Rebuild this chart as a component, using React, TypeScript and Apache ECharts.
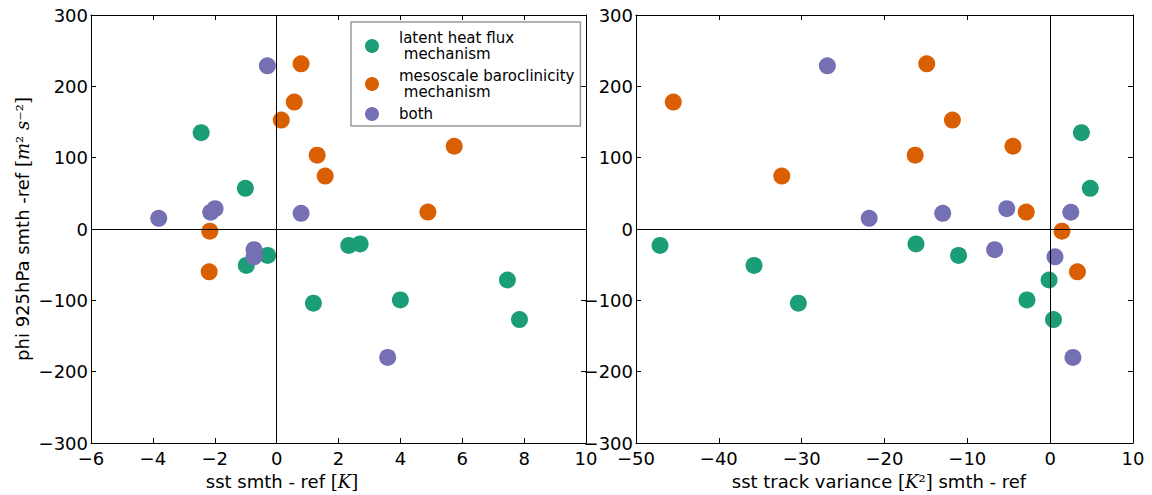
import React, { useEffect, useRef } from "react";
import * as echarts from "echarts";

// ---- data ----
const LATENT = "latent heat flux\n mechanism";
const MESO = "mesoscale baroclinicity\n mechanism";
const BOTH = "both";

// phi 925hPa smth - ref (shared y values)
const phiLatent = [135, 57, -23, -21, -51, -37, -71.5, -104, -99.5, -127];
const sstLatent = [-2.44, -1.01, 2.33, 2.7, -0.98, -0.29, 7.46, 1.19, 4.0, 7.85];
const varLatent = [3.77, 4.84, -47.1, -16.2, -35.75, -11.06, -0.13, -30.4, -2.8, 0.4];

const phiMeso = [231.6, 178, 152.7, 116, 103.5, 74.2, 23.7, -3, -60];
const sstMeso = [0.79, 0.57, 0.15, 5.74, 1.31, 1.57, 4.89, -2.16, -2.18];
const varMeso = [-14.9, -45.5, -11.8, -4.49, -16.3, -32.4, -2.89, 1.42, 3.29];

const phiBoth = [228.8, 15, 22, 23.5, 28.5, -29, -39, -180];
const sstBoth = [-0.3, -3.81, 0.79, -2.13, -1.99, -0.73, -0.73, 3.59];
const varBoth = [-26.9, -21.85, -12.97, 2.49, -5.24, -6.7, 0.58, 2.75];

const COLORS = { latent: "#1b9e77", meso: "#d95f02", both: "#7570b3" };

const FONT = "DejaVu Sans";
const fmt = (v: number) => (v < 0 ? "\u2212" + Math.abs(v) : String(v));

const rich = {
  b: { fontFamily: "DejaVu Serif", fontSize: 18, color: "#000" },
  i: { fontFamily: "DejaVu Serif", fontStyle: "italic", fontSize: 18, color: "#000" },
};

function xPair(grid: number, min: number, max: number, interval: number, name: string, padRight: number) {
  const common = {
    type: "value",
    gridIndex: grid,
    min,
    max,
    interval,
    splitLine: { show: false },
    axisLine: { show: true, onZero: false, lineStyle: { color: "#000", width: 1 } },
    axisTick: { show: true, inside: true, length: 5, lineStyle: { color: "#000" } },
  };
  return [
    {
      ...common,
      position: "bottom",
      name,
      nameLocation: "middle",
      nameGap: 29,
      nameTextStyle: { fontFamily: FONT, fontSize: 18, color: "#000", padding: [0, padRight, 0, 0], rich },
      axisLabel: { show: true, margin: 6, fontFamily: FONT, fontSize: 18, color: "#000", formatter: fmt },
    },
    { ...common, position: "top", axisLabel: { show: false } },
  ];
}

function yPair(grid: number, name?: string) {
  const common = {
    type: "value",
    gridIndex: grid,
    min: -300,
    max: 300,
    interval: 100,
    splitLine: { show: false },
    axisLine: { show: true, onZero: false, lineStyle: { color: "#000", width: 1 } },
    axisTick: { show: true, inside: true, length: 5, lineStyle: { color: "#000" } },
  };
  const left: any = {
    ...common,
    position: "left",
    axisLabel: { show: true, margin: 3, fontFamily: FONT, fontSize: 18, color: "#000", formatter: fmt },
  };
  if (name) {
    left.name = name;
    left.nameLocation = "middle";
    left.nameGap = 60;
    left.nameTextStyle = { fontFamily: FONT, fontSize: 18, color: "#000", rich };
  }
  return [left, { ...common, position: "right", axisLabel: { show: false } }];
}

function scatter(name: string, color: string, xs: number[], ys: number[], xi: number, yi: number) {
  return {
    type: "scatter",
    name,
    xAxisIndex: xi,
    yAxisIndex: yi,
    symbol: "circle",
    symbolSize: 17,
    itemStyle: { color, opacity: 1 },
    data: xs.map((x, i) => [x, ys[i]]),
    z: 2,
  };
}

function zeroLines(xi: number, yi: number) {
  return {
    type: "scatter",
    name: "zero" + xi,
    xAxisIndex: xi,
    yAxisIndex: yi,
    data: [],
    z: 5,
    silent: true,
    markLine: {
      silent: true,
      symbol: "none",
      label: { show: false },
      lineStyle: { color: "#000", width: 1, type: "solid" },
      data: [{ xAxis: 0 }, { yAxis: 0 }],
    },
  };
}

export default function App() {
  const ref = useRef<HTMLDivElement>(null);
  useEffect(() => {
    document.body.style.margin = "0";
    if (!ref.current) return;
    const chart = echarts.init(ref.current, undefined, { renderer: "svg" });
    const option: any = {
      animation: false,
      backgroundColor: "#fff",
      grid: [
        { left: 91, top: 15, width: 495, height: 431 },
        { left: 636, top: 15, width: 497, height: 431 },
      ],
      xAxis: [
        ...xPair(0, -6, 10, 2, "sst smth - ref {b|[}{i|K}{b|]}", 113),
        ...xPair(1, -50, 10, 10, "sst track variance {b|[}{i|K}{b|²]} smth - ref", 11),
      ],
      yAxis: [
        ...yPair(0, "phi 925hPa smth -ref {b|[}{i|m}{b|² }{i|s}{b|⁻²]}"),
        ...yPair(1),
      ],
      legend: {
        data: [LATENT, MESO, BOTH],
        orient: "vertical",
        left: 351,
        top: 22,
        padding: [8, 6, 4, 14],
        itemGap: 6,
        itemWidth: 14,
        itemHeight: 14,
        icon: "circle",
        borderColor: "#999",
        borderWidth: 1.5,
        backgroundColor: "#fff",
        textStyle: { fontFamily: FONT, fontSize: 15, color: "#000", lineHeight: 16, padding: [0, 0, 0, 15] },
      },
      series: [
        scatter(LATENT, COLORS.latent, sstLatent, phiLatent, 0, 0),
        scatter(MESO, COLORS.meso, sstMeso, phiMeso, 0, 0),
        scatter(BOTH, COLORS.both, sstBoth, phiBoth, 0, 0),
        scatter(LATENT, COLORS.latent, varLatent, phiLatent, 2, 2),
        scatter(MESO, COLORS.meso, varMeso, phiMeso, 2, 2),
        scatter(BOTH, COLORS.both, varBoth, phiBoth, 2, 2),
        zeroLines(0, 0),
        zeroLines(2, 2),
      ],
    };
    chart.setOption(option);
    return () => chart.dispose();
  }, []);
  return <div ref={ref} style={{ width: 1152, height: 495 }} />;
}
